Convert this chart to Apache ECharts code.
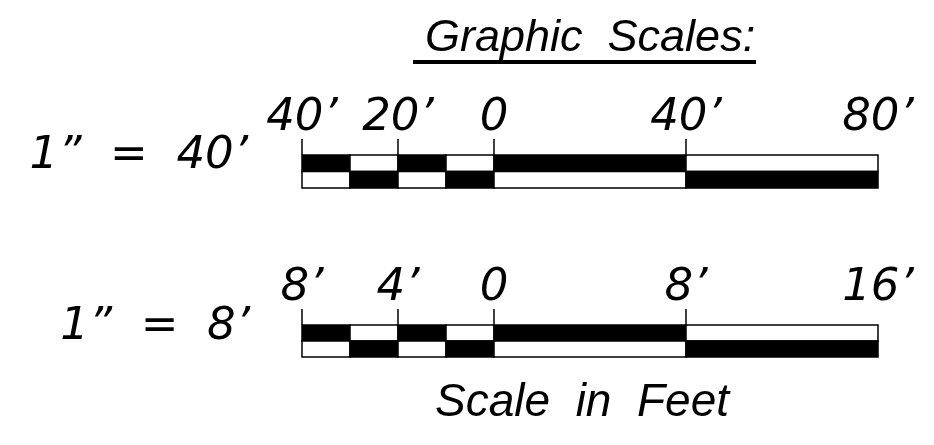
<!DOCTYPE html>
<html>
<head>
<meta charset="utf-8">
<script src="https://cdn.jsdelivr.net/npm/echarts@6/dist/echarts.min.js"></script>
<style>
  html, body { margin: 0; padding: 0; background: #fff; }
  #chart { width: 934px; height: 445px; }
</style>
</head>
<body>
<div id="chart"></div>
<script>
// ---- data ----
const titleText = 'Graphic  Scales:';
const footerText = 'Scale  in  Feet';
const scaleNames = ['1”  =  40’', '1”  =  8’'];

const topBreaks = [-40, -30, -20, -10, 0, 40, 80];
const topLabelValues = [-40, -20, 0, 40, 80];
const topLabels = ['40’', '20’', '0', '40’', '80’'];
const topTickValues = [-40, -20, 0, 40];

const bottomBreaks = [-8, -6, -4, -2, 0, 8, 16];
const bottomLabelValues = [-8, -4, 0, 8, 16];
const bottomLabels = ['8’', '4’', '0', '8’', '16’'];
const bottomTickValues = [-8, -4, 0, 8];

const upperRowFill = [1, 0, 1, 0, 1, 0];
const lowerRowFill = [0, 1, 0, 1, 0, 1];

// ---- build ----
function cells(breaks) {
  const out = [];
  for (let i = 0; i < breaks.length - 1; i++) {
    out.push([breaks[i], breaks[i + 1], 1, upperRowFill[i]]);
    out.push([breaks[i], breaks[i + 1], 0, lowerRowFill[i]]);
  }
  return out;
}

const NUMFONT = 'DejaVu Sans';
const TXTFONT = 'Liberation Sans';
const labelStyle = { fontFamily: NUMFONT, fontStyle: 'italic', fontSize: 45, color: '#000' };

function xAxisFor(gridIndex, breaks, labelVals, labels) {
  return {
    type: 'value', gridIndex: gridIndex,
    min: breaks[0], max: breaks[breaks.length - 1],
    position: 'top',
    axisLine: { show: false },
    splitLine: { show: false },
    axisTick: { show: false },
    axisLabel: Object.assign({
      show: true, customValues: labelVals, margin: 14,
      formatter: function (v) { return labels[labelVals.indexOf(v)]; }
    }, labelStyle)
  };
}

function renderCell(params, api) {
  const p0 = api.coord([api.value(0), api.value(2) + 1]);
  const p1 = api.coord([api.value(1), api.value(2)]);
  return {
    type: 'rect',
    shape: { x: p0[0], y: p0[1], width: p1[0] - p0[0], height: p1[1] - p0[1] },
    style: { fill: api.value(3) ? '#000' : '#fff', stroke: '#000', lineWidth: 1.5 }
  };
}

function renderTick(params, api) {
  const p = api.coord([api.value(0), 2]);
  return {
    type: 'line',
    shape: { x1: p[0], y1: p[1], x2: p[0], y2: p[1] - 16 },
    style: { stroke: '#000', lineWidth: 1.5 }
  };
}

const chart = echarts.init(document.getElementById('chart'), null, { renderer: 'canvas' });
chart.setOption({
  animation: false,
  backgroundColor: '#fff',
  grid: [
    { left: 302, right: 56, top: 155, height: 33 },
    { left: 302, right: 56, top: 325, height: 32 }
  ],
  xAxis: [
    xAxisFor(0, topBreaks, topLabelValues, topLabels),
    xAxisFor(1, bottomBreaks, bottomLabelValues, bottomLabels)
  ],
  yAxis: [
    { type: 'value', gridIndex: 0, min: 0, max: 2, show: false },
    { type: 'value', gridIndex: 1, min: 0, max: 2, show: false }
  ],
  series: [
    { type: 'custom', xAxisIndex: 0, yAxisIndex: 0, renderItem: renderCell,
      encode: { x: [0, 1], y: 2 }, data: cells(topBreaks) },
    { type: 'custom', xAxisIndex: 1, yAxisIndex: 1, renderItem: renderCell,
      encode: { x: [0, 1], y: 2 }, data: cells(bottomBreaks) },
    { type: 'custom', xAxisIndex: 0, yAxisIndex: 0, renderItem: renderTick,
      encode: { x: 0 }, data: topTickValues.map(v => [v]) },
    { type: 'custom', xAxisIndex: 1, yAxisIndex: 1, renderItem: renderTick,
      encode: { x: 0 }, data: bottomTickValues.map(v => [v]) }
  ],
  graphic: [
    { type: 'text', left: 425, top: 16, style: { text: titleText, font: 'italic 45px "' + TXTFONT + '"', fill: '#000' } },
    { type: 'line', shape: { x1: 413, y1: 62, x2: 756, y2: 62 }, style: { stroke: '#000', lineWidth: 4 } },
    { type: 'text', right: 934 - 248, top: 134, style: { text: scaleNames[0], font: 'italic 45px "' + NUMFONT + '"', fill: '#000' } },
    { type: 'text', right: 934 - 250, top: 305, style: { text: scaleNames[1], font: 'italic 45px "' + NUMFONT + '"', fill: '#000' } },
    { type: 'text', left: 435, top: 380, style: { text: footerText, font: 'italic 46px "' + TXTFONT + '"', fill: '#000' } }
  ]
});
</script>
</body>
</html>
